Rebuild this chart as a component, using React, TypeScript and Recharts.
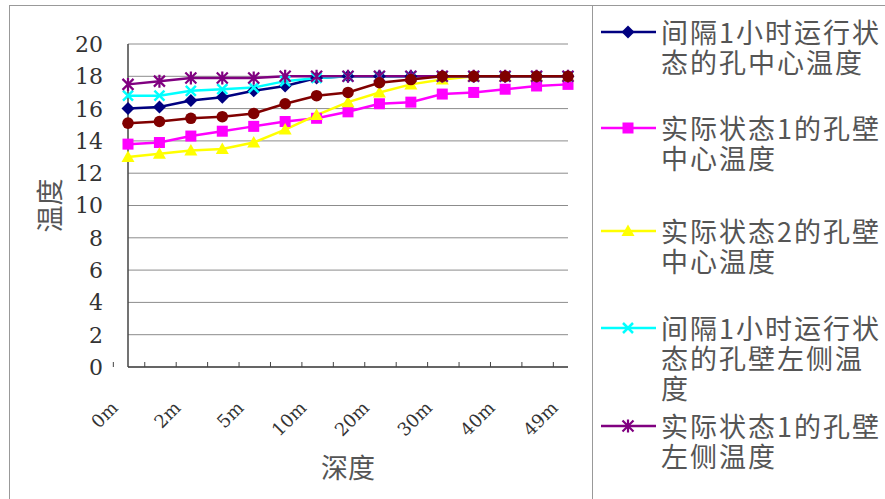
import { LineChart, Line, XAxis, YAxis, CartesianGrid } from "recharts";

// depth categories along the hole (every other one is labelled)
const depths = ["0m", "1m", "2m", "3m", "5m", "8m", "10m", "15m", "20m", "25m", "30m", "35m", "40m", "45m", "49m"];

const yTicks = [0, 2, 4, 6, 8, 10, 12, 14, 16, 18, 20];

// temperatures per series
const intervalCenter = [16.0, 16.1, 16.5, 16.7, 17.1, 17.4, 17.9, 18.0, 18.0, 18.0, 18.0, 18.0, 18.0, 18.0, 18.0];
const state1WallCenter = [13.8, 13.9, 14.3, 14.6, 14.9, 15.2, 15.4, 15.8, 16.3, 16.4, 16.9, 17.0, 17.2, 17.4, 17.5];
const state2WallCenter = [13.0, 13.2, 13.4, 13.5, 13.9, 14.7, 15.6, 16.4, 17.0, 17.5, 17.8, 18.0, 18.0, 18.0, 18.0];
const intervalWallLeft = [16.8, 16.8, 17.1, 17.2, 17.3, 17.7, 17.9, 18.0, 18.0, 18.0, 18.0, 18.0, 18.0, 18.0, 18.0];
const state1WallLeft = [17.5, 17.7, 17.9, 17.9, 17.9, 18.0, 18.0, 18.0, 18.0, 18.0, 18.0, 18.0, 18.0, 18.0, 18.0];
const state2WallLeft = [15.1, 15.2, 15.4, 15.5, 15.7, 16.3, 16.8, 17.0, 17.6, 17.8, 18.0, 18.0, 18.0, 18.0, 18.0];

const seriesNames = [
  "间隔1小时运行状态的孔中心温度",
  "实际状态1的孔壁中心温度",
  "实际状态2的孔壁中心温度",
  "间隔1小时运行状态的孔壁左侧温度",
  "实际状态1的孔壁左侧温度",
  "实际状态2的孔壁左侧温度",
];

type MarkerKind = "diamond" | "square" | "triangle" | "cross" | "star" | "circle";

const series: { key: string; name: string; values: number[]; color: string; marker: MarkerKind }[] = [
  { key: "s1", name: seriesNames[0], values: intervalCenter, color: "#000080", marker: "diamond" },
  { key: "s2", name: seriesNames[1], values: state1WallCenter, color: "#ff00ff", marker: "square" },
  { key: "s3", name: seriesNames[2], values: state2WallCenter, color: "#ffff00", marker: "triangle" },
  { key: "s4", name: seriesNames[3], values: intervalWallLeft, color: "#00ffff", marker: "cross" },
  { key: "s5", name: seriesNames[4], values: state1WallLeft, color: "#800080", marker: "star" },
  { key: "s6", name: seriesNames[5], values: state2WallLeft, color: "#800000", marker: "circle" },
];

const data = depths.map((depth, i) => {
  const row: Record<string, string | number> = { depth };
  series.forEach((s) => (row[s.key] = s.values[i]));
  return row;
});

const W = 885;
const H = 499;
const MARGIN = { top: 44, right: 317, bottom: 72, left: 10 };
const PLOT_W = W - MARGIN.left - 118 - MARGIN.right;
const SERIF = "'DejaVu Serif', serif";
const CJK = "'Noto Sans CJK SC', sans-serif";

function Marker({ kind, cx, cy, color }: { kind: MarkerKind; cx: number; cy: number; color: string }) {
  switch (kind) {
    case "diamond":
      return <path d={`M${cx},${cy - 6.5}L${cx + 6.5},${cy}L${cx},${cy + 6.5}L${cx - 6.5},${cy}Z`} fill={color} />;
    case "square":
      return <rect x={cx - 5.5} y={cy - 5.5} width={11} height={11} fill={color} />;
    case "triangle":
      return <path d={`M${cx},${cy - 6.5}L${cx + 6.5},${cy + 5}L${cx - 6.5},${cy + 5}Z`} fill={color} />;
    case "cross":
      return (
        <path d={`M${cx - 5},${cy - 5}L${cx + 5},${cy + 5}M${cx - 5},${cy + 5}L${cx + 5},${cy - 5}`} stroke={color} strokeWidth={2.5} />
      );
    case "star":
      return (
        <path
          d={`M${cx - 5.5},${cy - 5.5}L${cx + 5.5},${cy + 5.5}M${cx - 5.5},${cy + 5.5}L${cx + 5.5},${cy - 5.5}M${cx},${cy - 6.5}L${cx},${cy + 6.5}`}
          stroke={color}
          strokeWidth={2.2}
        />
      );
    default:
      return <circle cx={cx} cy={cy} r={5.8} fill={color} />;
  }
}

// category ticks sit on the band boundaries, labels only on every other category
function DepthTick(props: any) {
  const { x, y, index, payload } = props;
  const half = PLOT_W / depths.length / 2;
  const lx = x - 9;
  const ly = y + 42;
  return (
    <g>
      <line x1={x - half} x2={x - half} y1={y - 5} y2={y} stroke="#444" strokeWidth={1} />
      {index % 2 === 0 && (
        <text
          x={lx}
          y={ly}
          transform={`rotate(-45 ${lx} ${ly})`}
          textAnchor="end"
          fontSize={18}
          fontFamily={SERIF}
          fill="#333"
        >
          {payload.value}
        </text>
      )}
    </g>
  );
}

function ValueTick(props: any) {
  const { x, y, payload } = props;
  return (
    <text x={x} y={y} dy="0.36em" textAnchor="end" fontSize={22} fontFamily={SERIF} fill="#333">
      {payload.value}
    </text>
  );
}

function YTitle({ viewBox }: any) {
  const cx = viewBox.x + 38;
  const cy = viewBox.y + viewBox.height / 2;
  return (
    <text
      x={cx}
      y={cy}
      transform={`rotate(-90 ${cx} ${cy})`}
      textAnchor="middle"
      dominantBaseline="central"
      fontSize={27}
      fontFamily={CJK}
      fill="#555"
    >
      温度
    </text>
  );
}

function XTitle({ viewBox }: any) {
  const cx = viewBox.x + viewBox.width / 2;
  const cy = viewBox.y + 99;
  return (
    <text x={cx} y={cy} textAnchor="middle" dominantBaseline="central" fontSize={27} fontFamily={CJK} fill="#555">
      深度
    </text>
  );
}

// legend rows (only the first five fit inside the frame)
const legendTops = [16, 112, 215, 312, 410];

function LegendBox() {
  return (
    <div
      style={{
        position: "absolute",
        left: 592,
        top: 5,
        width: 400,
        height: 600,
        borderLeft: "1px solid #999",
        borderTop: "1px solid #999",
        background: "#fff",
      }}
    >
      {series.slice(0, 5).map((s, i) => (
        <div key={s.key} style={{ position: "absolute", left: 0, top: legendTops[i] - 5, width: 300 }}>
          <svg width={66} height={30} style={{ position: "absolute", left: 0, top: 0 }}>
            <line x1={8} x2={63} y1={15} y2={15} stroke={s.color} strokeWidth={2.5} />
            <Marker kind={s.marker} cx={35} cy={15} color={s.color} />
          </svg>
          <div
            style={{
              position: "absolute",
              left: 68,
              top: 0,
              width: 225,
              fontFamily: CJK,
              fontSize: 27,
              letterSpacing: 2,
              lineHeight: "30px",
              color: "#555",
              wordBreak: "break-all",
            }}
          >
            {s.name}
          </div>
        </div>
      ))}
    </div>
  );
}

export default function App() {
  return (
    <div style={{ position: "absolute", left: 0, top: 0, width: W, height: H, overflow: "hidden", background: "#fff" }}>
      <div
        style={{
          position: "absolute",
          left: 9,
          top: 5,
          width: 1000,
          height: 1000,
          border: "1px solid #999",
        }}
      />
      <div style={{ position: "absolute", left: 0, top: 0 }}>
        <LineChart width={W} height={H} data={data} margin={MARGIN}>
          <CartesianGrid vertical={false} stroke="#8c8c8c" strokeWidth={1} />
          <XAxis
            dataKey="depth"
            interval={0}
            height={60}
            tickSize={0}
            tickMargin={0}
            tickLine={false}
            axisLine={{ stroke: "#444", strokeWidth: 1.5 }}
            tick={<DepthTick />}
            label={<XTitle />}
          />
          <XAxis
            xAxisId="top"
            dataKey="depth"
            orientation="top"
            height={0}
            tick={false}
            tickLine={false}
            axisLine={{ stroke: "#555", strokeWidth: 1.5 }}
          />
          <YAxis
            domain={[0, 20]}
            ticks={yTicks}
            width={118}
            tickSize={0}
            tickMargin={25}
            tickLine={false}
            axisLine={{ stroke: "#444", strokeWidth: 1.5 }}
            tick={<ValueTick />}
            label={<YTitle />}
          />
          <YAxis
            yAxisId="right"
            orientation="right"
            domain={[0, 20]}
            width={0}
            tick={false}
            tickLine={false}
            axisLine={{ stroke: "#777", strokeWidth: 1.5 }}
          />
          {series.map((s) => (
            <Line
              key={s.key}
              dataKey={s.key}
              name={s.name}
              stroke={s.color}
              strokeWidth={2.5}
              isAnimationActive={false}
              dot={(p: any) => <Marker key={`${s.key}-${p.index}`} kind={s.marker} cx={p.cx} cy={p.cy} color={s.color} />}
              activeDot={false}
            />
          ))}
        </LineChart>
      </div>
      <LegendBox />
    </div>
  );
}
